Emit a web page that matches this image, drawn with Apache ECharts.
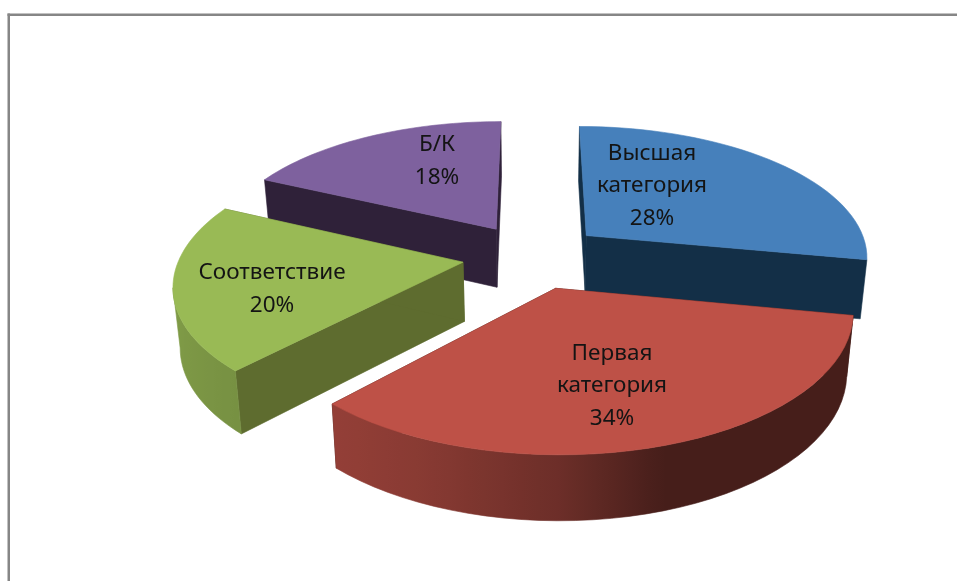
<!DOCTYPE html>
<html>
<head>
<meta charset="utf-8">
<style>
html,body{margin:0;padding:0;background:#fff;overflow:hidden}
#chart{width:957px;height:581px}
</style>
<script src="https://cdn.jsdelivr.net/npm/echarts@6/dist/echarts.min.js"></script>
</head>
<body>
<div id="chart"></div>
<script>
var categories = ['Высшая\nкатегория', 'Первая\nкатегория', 'Соответствие', 'Б/К'];
var values = [28, 34, 20, 18];
var topColors = ['#4680BB', '#BE5147', '#99BA55', '#7E619E'];
var cutColors = ['#132F47', '#3F1710', '#5E6C2F', '#2F2139'];

// layout of the tilted pie, measured on the picture
var cx = 533, cy = 256, R = 283, T = 131, persp = 0.149, explode = 0.25;
var drawOrder = [1, 3, 2, 0]; // z per slice, front slices on top
var labelPos = [[652, 186], [612, 386], [272, 289], [437, 161]];
// brightness of the outer wall by angle on the disc
var wallAngles = [163, 180, 204, 223, 285];
var wallLight = [0.37, 0.57, 0.72, 0.78, 0.9];

var total = 0;
var starts = [];
for (var i = 0; i < values.length; i++) {
	starts.push(total);
	total += values[i];
}

function rad(deg) { return deg * Math.PI / 180; }

// a point on the disc -> screen
function project(idx, deg, r) {
	var mid = rad((starts[idx] + values[idx] / 2) / total * 360);
	var X = explode * Math.sin(mid) + r * Math.sin(rad(deg));
	var Y = -explode * Math.cos(mid) - r * Math.cos(rad(deg));
	var s = 1 / (1 - persp * Y);
	return [cx + R * X * s, cy + T * Y * s];
}
// same point on the lower side of the slice
function lower(p) {
	return [cx + (p[0] - cx) * 0.98, p[1] + 59 + 0.035 * (p[1] - cy)];
}
function shade(hex, f) {
	var n = parseInt(hex.slice(1), 16);
	return 'rgb(' + Math.round((n >> 16) * f) + ',' + Math.round(((n >> 8) & 255) * f) + ',' + Math.round((n & 255) * f) + ')';
}
function wallShade(deg) {
	if (deg <= wallAngles[0]) return wallLight[0];
	for (var j = 1; j < wallAngles.length; j++) {
		if (deg <= wallAngles[j]) {
			var t = (deg - wallAngles[j - 1]) / (wallAngles[j] - wallAngles[j - 1]);
			return wallLight[j - 1] + t * (wallLight[j] - wallLight[j - 1]);
		}
	}
	return wallLight[wallLight.length - 1];
}
function poly(points, fill, z) {
	return {type: 'polygon', z2: z, silent: true, shape: {points: points},
		style: {fill: fill, stroke: fill, lineWidth: 0.6}};
}

function renderSlice(params, api) {
	var idx = params.dataIndex;
	var val = api.value(0);
	var a0 = starts[idx] / total * 360;
	var a1 = a0 + val / total * 360;
	var z = drawOrder[idx] * 10;
	var kids = [];
	var apex = project(idx, 0, 0);
	var top = [apex];
	var step = (a1 - a0) / 40;

	// cut faces
	[a0, a1].forEach(function (a) {
		var p = project(idx, a, 1);
		kids.push(poly([apex, p, lower(p), lower(apex)], cutColors[idx], z));
	});

	// outer wall, only the part that faces the viewer
	var upper = [], angles = [];
	for (var k = 0; k <= 40; k++) {
		var d = a0 + step * k;
		var p = project(idx, d, 1);
		top.push(p);
		if (d >= 90 && d <= 296) {
			upper.push(p);
			angles.push(d);
		}
	}
	if (upper.length > 1) {
		var xs = upper.map(function (q) { return q[0]; });
		var minX = Math.min.apply(null, xs), maxX = Math.max.apply(null, xs);
		// past the left silhouette the wall is behind the top face
		upper = upper.slice(0, xs.indexOf(minX) + 1);
	}
	if (upper.length > 1) {
		var under = upper.map(lower).reverse();
		var stops = upper.map(function (q, n) {
			return {offset: (q[0] - minX) / (maxX - minX), color: shade(topColors[idx], wallShade(angles[n]))};
		}).sort(function (a, b) { return a.offset - b.offset; });
		var grad = new echarts.graphic.LinearGradient(minX, 0, maxX, 0, stops, true);
		kids.push(poly(upper.concat(under), grad, z + 1));
	}

	kids.push(poly(top, topColors[idx], z + 2));
	kids.push({
		type: 'text', z2: 100, silent: true,
		style: {
			x: labelPos[idx][0], y: labelPos[idx][1],
			text: categories[idx] + '\n' + val + '%',
			fill: '#141414', font: '22.5px "Noto Sans"', lineHeight: 32.5,
			align: 'center', verticalAlign: 'middle'
		}
	});
	return {type: 'group', children: kids};
}

var chart = echarts.init(document.getElementById('chart'));
chart.setOption({
	backgroundColor: '#fff',
	animation: false,
	graphic: [
		{type: 'rect', shape: {x: 7.5, y: 13.5, width: 2.5, height: 568}, style: {fill: '#868686'}},
		{type: 'rect', shape: {x: 7.5, y: 13.5, width: 950, height: 2.5}, style: {fill: '#868686'}}
	],
	series: [{
		type: 'custom',
		coordinateSystem: 'none',
		renderItem: renderSlice,
		data: values.map(function (v) { return [v]; })
	}]
});
</script>
</body>
</html>
